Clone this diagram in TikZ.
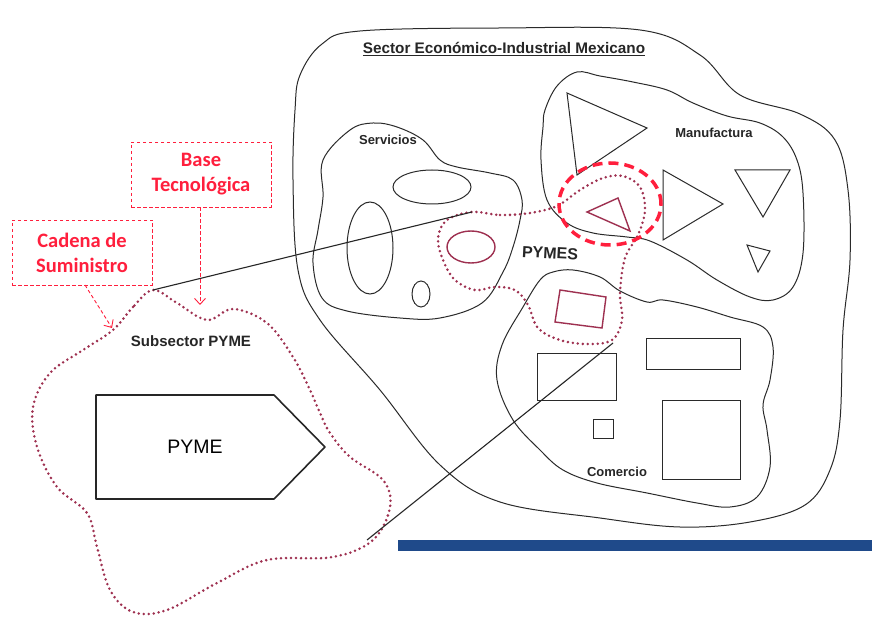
\documentclass[tikz,border=0pt]{standalone}
\usepackage{fontspec}
\setmainfont{Liberation Sans}
\newfontfamily\calfont{Carlito}
\usetikzlibrary{arrows.meta}
\definecolor{dred}{HTML}{9E3050}
\definecolor{bred}{HTML}{FF1F3D}
\definecolor{navy}{HTML}{1F4A8A}
\definecolor{lgray}{HTML}{2A2A2A}
\tikzset{
  blob/.style={draw=lgray, line width=1pt},
  dotreg/.style={draw=dred, line width=2.8pt, line cap=round, dash pattern=on 0pt off 5pt},
  shp/.style={draw=lgray, line width=1pt},
  redshp/.style={draw=dred, line width=1.4pt},
  callout/.style={draw=bred, line width=0.9pt, dash pattern=on 3.5pt off 2.5pt, text=bred, font=\calfont\bfseries\fontsize{20.5}{25}\selectfont, align=center, minimum width=140pt, inner sep=2pt},
  callarrow/.style={draw=bred, line width=0.9pt, dash pattern=on 3.5pt off 2.5pt, -{Straight Barb[length=6pt,width=11pt]}},
  lbl/.style={font=\bfseries\fontsize{13}{15}\selectfont, text=black!85},
  link/.style={draw=black!85, line width=1.1pt}
}
\begin{document}
\begin{tikzpicture}[x=1pt,y=-1pt]
\useasboundingbox (0,0) rectangle (872,617);
\fill[white] (0,0) rectangle (872,617);

% outer sector
\draw[blob] plot[smooth cycle, tension=0.6] coordinates {(300,75) (322,44) (360,31) (500,28) (640,30) (700,55) (740,95) (800,114) (835,140) (848,190) (850,260) (843,330) (840,420) (830,470) (805,505) (750,522) (680,527) (600,518) (500,502) (440,465) (380,390) (320,320) (298,270) (293,180) (295,110)};
\node[font=\bfseries\fontsize{15.3}{18}\selectfont, text=black!85] (sector) at (504,49) {\underline{Sector Económico-Industrial Mexicano}};

% Servicios
\draw[blob] plot[smooth cycle, tension=0.6] coordinates {(323,160) (350,130) (373,123) (397,127) (423,140) (440,160) (457,167) (490,173) (513,180) (522,200) (520,220) (513,247) (503,272) (482,303) (440,318) (400,318) (347,311) (322,298) (313,263) (318,230) (323,197)};
\node[lbl] (serv) at (388,140) {Servicios};
\draw[shp] (432,187) ellipse (39pt and 17pt);
\draw[shp] (370,248) ellipse (23pt and 46pt);
\draw[shp] (421,294) ellipse (9pt and 13pt);

% Manufactura
\draw[blob] plot[smooth cycle, tension=0.6] coordinates {(543,127) (541,160) (547,200) (567,223) (593,233) (627,237) (650,241) (687,260) (717,280) (750,297) (773,300) (793,287) (803,253) (803,193) (797,160) (783,137) (760,123) (727,116) (693,103) (667,90) (633,82) (600,76) (577,72) (557,86) (545,110)};
\node[lbl] (manu) at (714,133) {Manufactura};
\draw[shp] (567,93) -- (647,128) -- (577,175) -- cycle;
\draw[shp] (663,170) -- (723,204) -- (663,240) -- cycle;
\draw[shp] (735,170) -- (790,170) -- (763,217) -- cycle;
\draw[shp] (747,245) -- (770,251) -- (758,272) -- cycle;

% Comercio
\draw[blob] plot[smooth cycle, tension=0.6] coordinates {(540,280) (523,307) (502,345) (497,380) (513,420) (540,450) (563,470) (597,483) (647,493) (697,503) (730,507) (757,497) (770,467) (767,430) (763,405) (770,380) (773,347) (763,327) (730,317) (697,307) (663,300) (647,302) (620,291) (600,277) (573,270) (553,272)};
\node[lbl] (com) at (617,472) {Comercio};
\draw[shp] (537,353) rectangle (616,400);
\draw[shp] (646,338) rectangle (740,369);
\draw[shp] (662,400) rectangle (740,479);
\draw[shp] (593,419) rectangle (613,438);

% PYMES red items
\draw[redshp] (471,247) ellipse (24pt and 16pt);
\draw[redshp] (587,212) -- (618,198) -- (630,231) -- cycle;
\draw[redshp] (560,290) -- (606,297) -- (602,328) -- (555,322) -- cycle;

% PYMES dotted region
\draw[dotreg] plot[smooth cycle, tension=0.6] coordinates {(472,212) (500,215) (530,213) (557,206) (580,190) (603,178) (623,176) (640,187) (645,210) (638,235) (625,258) (620,293) (622,320) (612,340) (587,344) (560,340) (538,328) (528,305) (515,290) (495,287) (475,290) (455,280) (443,260) (438,238) (447,220)};
\node[font=\bfseries\fontsize{16}{19}\selectfont, text=black!85, rotate=-3] (pymes) at (550,253) {PYMES};
\coordinate (pa) at (472,212);
\coordinate (pb) at (613,343);

% red dashed circle
\draw[bred, line width=3.5pt, dash pattern=on 10pt off 6pt] (610,204) ellipse (51pt and 41pt);

% Subsector PYME dotted region
\draw[dotreg] plot[smooth cycle, tension=0.6] coordinates {(153,290) (133,307) (113,330) (83,350) (50,373) (33,407) (37,447) (57,487) (87,513) (97,547) (110,590) (133,612) (167,610) (217,583) (267,560) (333,557) (373,540) (390,507) (383,480) (350,457) (330,433) (320,413) (310,390) (293,357) (267,323) (233,309) (207,320) (177,303)};
\node[font=\bfseries\fontsize{15}{17}\selectfont, text=black!85] (sub) at (191,341) {Subsector PYME};
\coordinate (sa) at (153,290);
\coordinate (sb) at (367,540);

% PYME pentagon
\draw[draw=black!85, line width=1.6pt, line join=round] (96,395) -- (274,395) -- (325,447) -- (274,499) -- (96,499) -- cycle;
\node[font=\fontsize{19.5}{22}\selectfont, text=black] (pyme) at (195,447) {PYME};

% connecting lines
\draw[link] (sa) -- (pa);
\draw[link] (sb) -- (pb);

% blue bar
\fill[navy] (398,540) rectangle (872,551);

% callouts
\node[callout, minimum height=65pt] (base) at (201,174.5) {Base\\Tecnológica};
\node[callout, minimum height=65pt] (cad) at (82,252.5) {Cadena de\\Suministro};
\coordinate (baseend) at (200,305);
\coordinate (cadend) at (112,328);
\draw[callarrow] (base.south -| baseend) -- (baseend);
\draw[callarrow] (85,285) -- (cadend);
\end{tikzpicture}
\end{document}
